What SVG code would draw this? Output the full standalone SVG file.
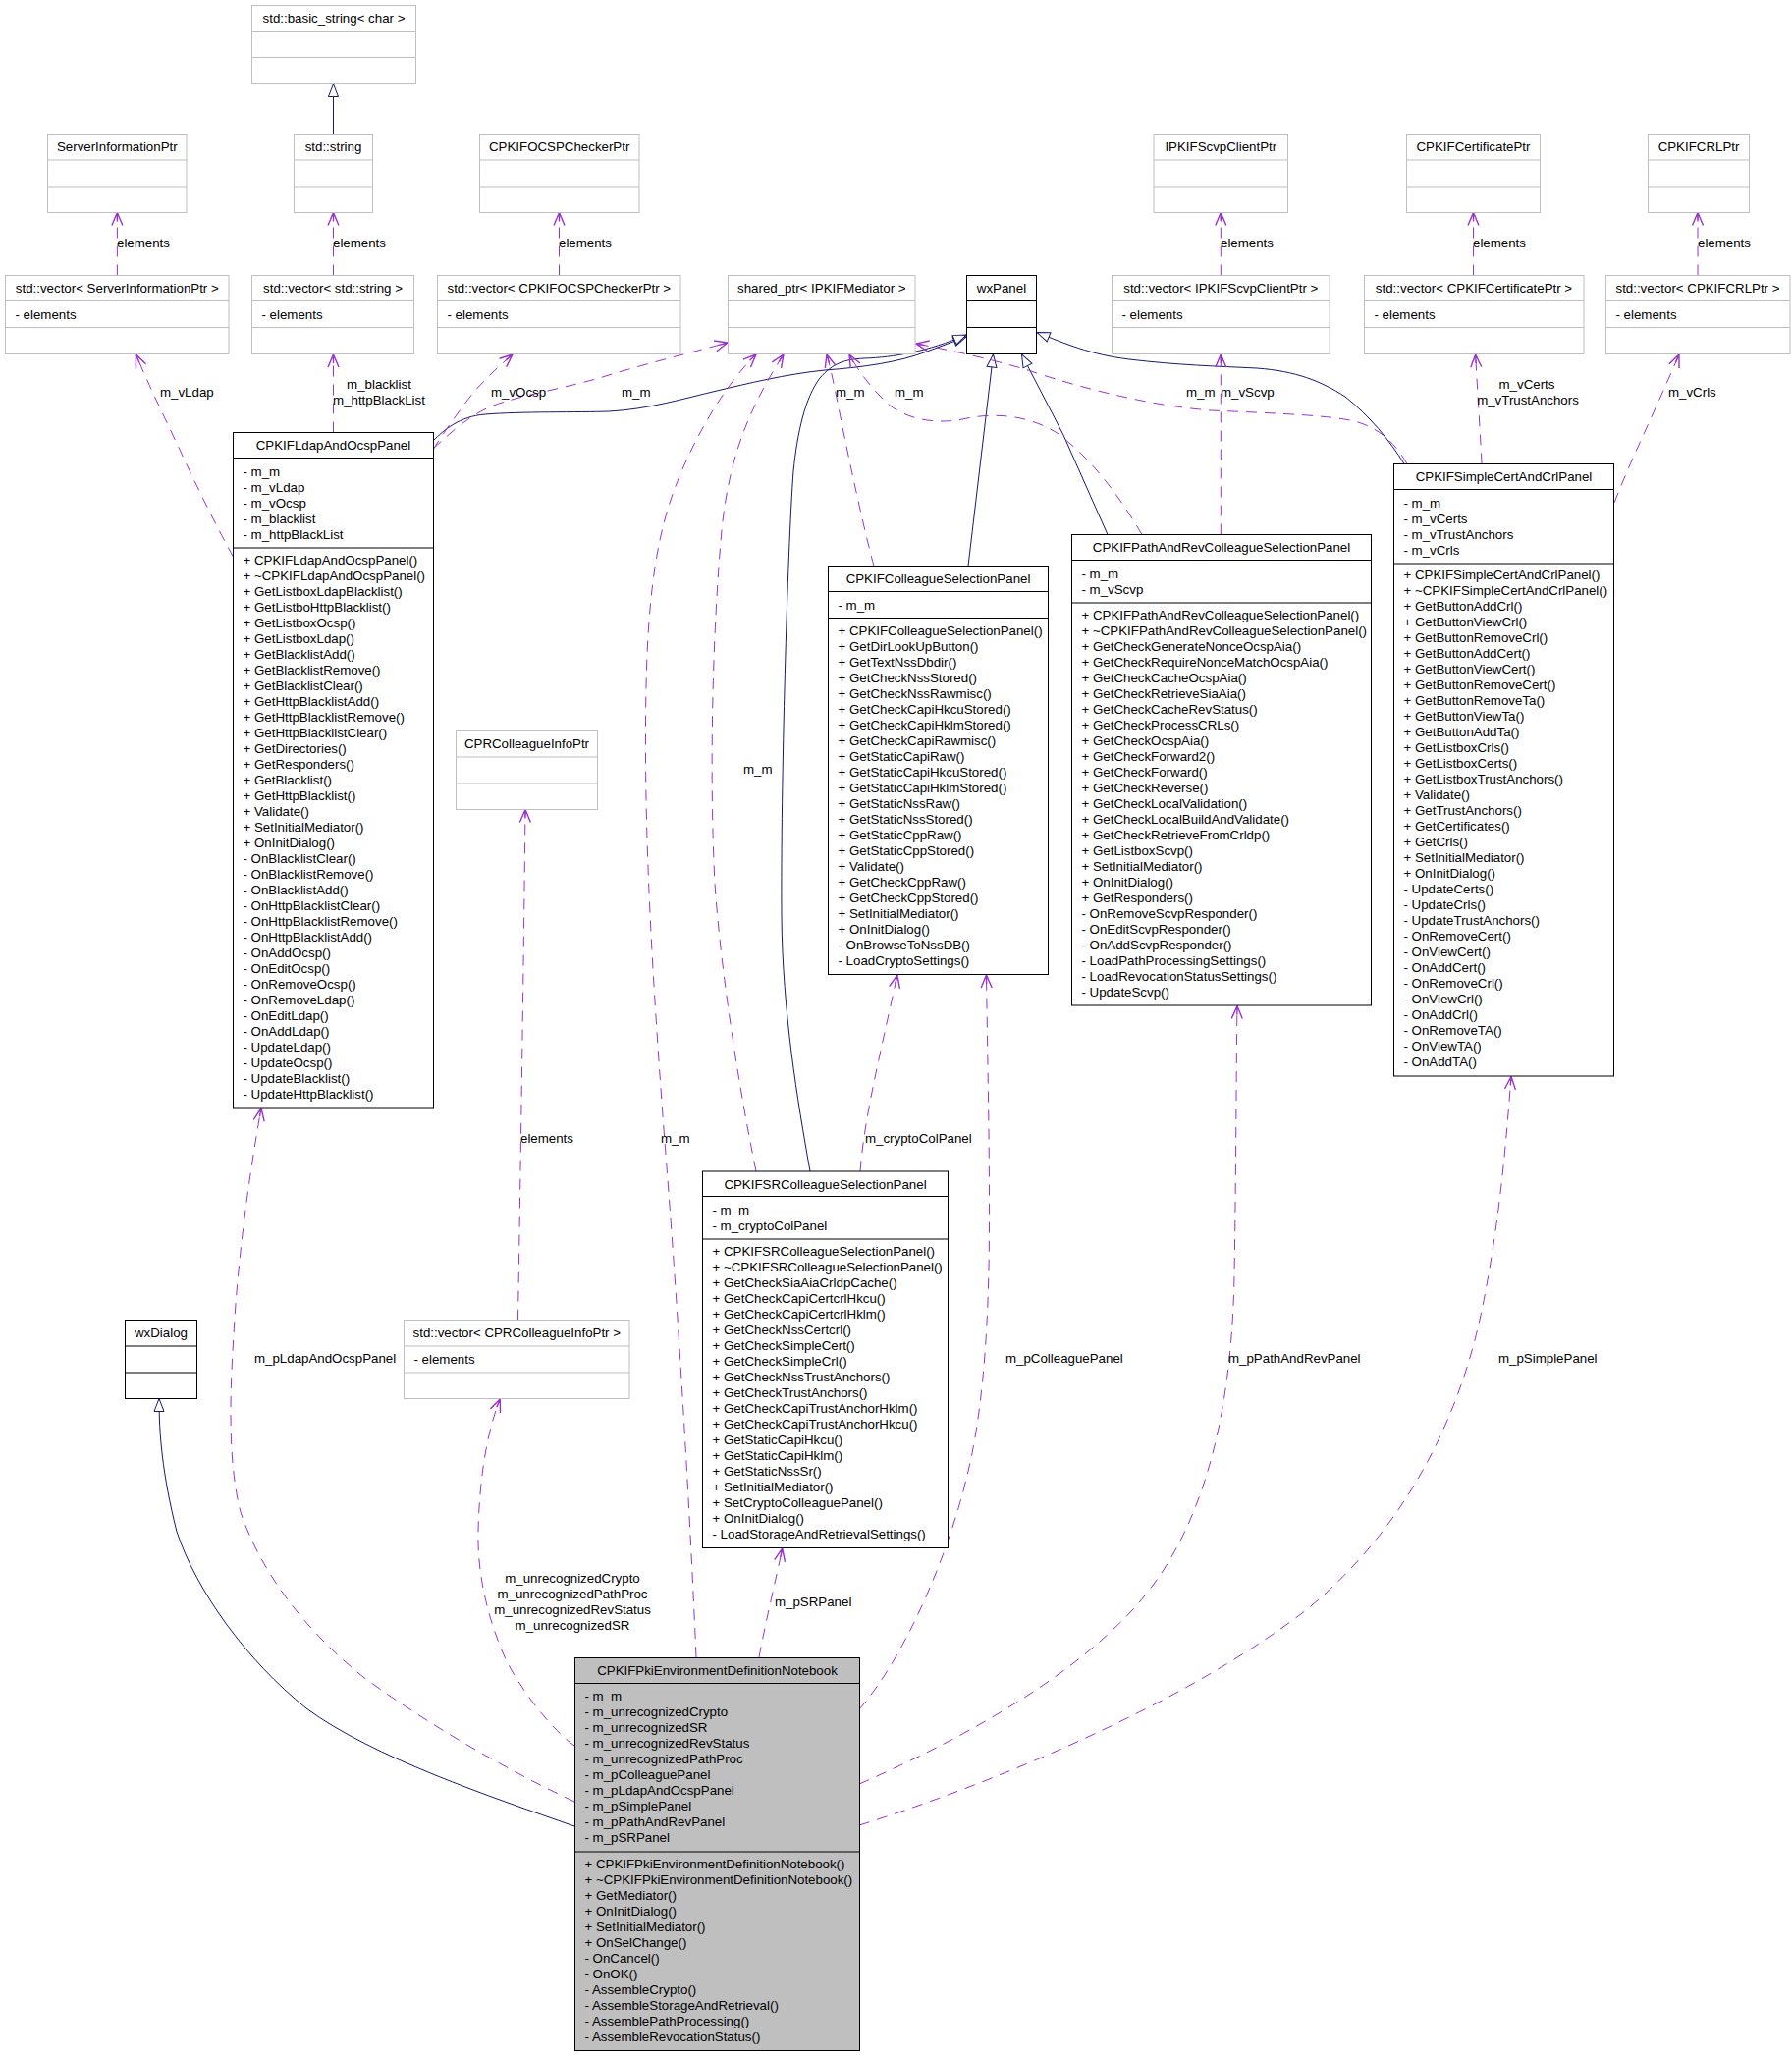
<svg xmlns="http://www.w3.org/2000/svg" width="1825" height="2093" viewBox="0 0 1825 2093">
<style>
text{font-family:"Liberation Sans",Arial,sans-serif;font-size:13.3px;fill:#000}
.h{text-anchor:middle}
.c{text-anchor:middle}
.g{fill:#fff;stroke:#bfbfbf;stroke-width:1}
.gl{stroke:#bfbfbf;stroke-width:1}
.b{fill:#fff;stroke:#000;stroke-width:1}
.bl{stroke:#000;stroke-width:1}
.n{fill:#bfbfbf;stroke:#000;stroke-width:1}
.inh{fill:none;stroke:#191970;stroke-width:1;marker-end:url(#tri)}
.use{fill:none;stroke:#9a32cd;stroke-width:1;stroke-dasharray:11,8;marker-end:url(#vee)}
</style>
<defs>
<marker id="tri" markerUnits="userSpaceOnUse" orient="auto" refX="0" refY="0" markerWidth="20" markerHeight="20" overflow="visible">
<path d="M0,0 L-13,-5 L-13,5 Z" fill="#fff" stroke="#191970" stroke-width="1"/>
</marker>
<marker id="vee" markerUnits="userSpaceOnUse" orient="auto" refX="0" refY="0" markerWidth="20" markerHeight="20" overflow="visible">
<path d="M-13,-5.5 L0,0 L-13,5.5 M0,0 L-9,0" fill="none" stroke="#9a32cd" stroke-width="1.4"/>
</marker>
</defs>
<rect width="1825" height="2093" fill="#fff"/>

<g id="connectors">
<!-- inheritance -->
<path class="inh" d="M339.5,136.5 L339.5,85.5"/>
<path class="inh" d="M441,449 C452,438 468,424 494,422 C530,419 590,420 620,419 C660,417 700,405 730,398 C760,391 800,381 840,377 C880,374 915,369 944,358 L984,343"/>
<path class="inh" d="M825,1193 C812,1120 797,1030 796,934 C795,800 802,560 808,480 C812,440 820,405 835,385 C848,370 860,366 880,365 C910,364 945,358 984,341"/>
<path class="inh" d="M986,576.5 L1011.5,361"/>
<path class="inh" d="M1128,544.5 L1083,443 L1040.5,361"/>
<path class="inh" d="M1430,472.5 C1415,448 1395,424 1370,404 C1345,388 1320,378 1280,375 C1240,373 1200,372 1150,366 C1110,361 1085,350 1056,338.5"/>
<path class="inh" d="M585,1860 C500,1830 380,1790 312,1740 C250,1690 200,1620 180,1560 C165,1500 162,1460 162,1424.5"/>
<!-- usage: elements -->
<path class="use" d="M119.4,280.5 L119.4,216.5"/>
<path class="use" d="M339.5,280.5 L339.5,216.5"/>
<path class="use" d="M569.5,280.5 L569.5,216.5"/>
<path class="use" d="M1243.3,280.5 L1243.3,216.5"/>
<path class="use" d="M1500.5,280.5 L1500.5,216.5"/>
<path class="use" d="M1729,280.5 L1729,216.5"/>
<path class="use" d="M527.5,1344.5 C530,1200 533,1000 535,824.5"/>
<!-- Ldap panel -->
<path class="use" d="M237.5,567 C225,545 200,495 184,460 C170,430 155,400 138.4,361"/>
<path class="use" d="M339.5,440.5 L339.5,361"/>
<path class="use" d="M441,458 C450,443 470,415 482,400 C495,385 508,373 522,361"/>
<path class="use" d="M441,457 C460,440 475,425 500,414 C530,402 580,395 620,382 C660,370 700,360 741,349"/>
<!-- shared_ptr users -->
<path class="use" d="M709,1688 C703,1550 692,1350 676,1150 C665,1000 655,850 658,700 C660,600 670,540 690,490 C710,440 740,390 770,361"/>
<path class="use" d="M770,1193 C755,1120 735,1000 728,900 C722,780 726,640 735,540 C742,470 760,420 798,361"/>
<path class="use" d="M890,576.5 C880,540 865,470 855,420 C850,395 846,375 842,361"/>
<path class="use" d="M1163,544.5 C1140,505 1110,465 1075,440 C1045,422 1010,420 980,427 C955,432 925,428 905,412 C890,398 875,380 865,361"/>
<path class="use" d="M1433,472.5 C1420,450 1405,437 1383,430 C1360,423 1300,421 1233,418 C1170,413 1100,395 1047,377 C1010,366 970,357 933,350"/>
<!-- other -->
<path class="use" d="M1243.3,544.5 L1243.3,361"/>
<path class="use" d="M1509,472.5 C1507,430 1504,390 1502.7,361"/>
<path class="use" d="M1644,512 C1660,470 1685,420 1710,361"/>
<path class="use" d="M876,1193 C880,1140 895,1080 913.8,993"/>
<path class="use" d="M875,1741 C920,1690 970,1580 990,1480 C1010,1380 1008,1250 1007,1150 C1006,1080 1005,1030 1004.5,993"/>
<path class="use" d="M875,1817 C960,1780 1100,1710 1170,1620 C1240,1530 1255,1400 1257,1300 C1259,1180 1259,1080 1260,1024.5"/>
<path class="use" d="M875,1859 C1000,1820 1200,1740 1330,1640 C1440,1550 1490,1430 1510,1330 C1528,1240 1534,1160 1539,1096.5"/>
<path class="use" d="M585,1835 C500,1795 420,1745 370,1708 C310,1660 265,1600 245,1540 C232,1490 234,1420 238,1360 C242,1280 255,1190 266,1128.5"/>
<path class="use" d="M585,1778 C560,1760 530,1720 515,1690 C495,1645 486,1600 487,1560 C488,1510 495,1460 509.3,1425"/>
<path class="use" d="M773,1688 C780,1650 790,1610 796.7,1577"/>
<!-- labels -->
<text x="119" y="252">elements</text>
<text x="339" y="252">elements</text>
<text x="569" y="252">elements</text>
<text x="1243" y="252">elements</text>
<text x="1500" y="252">elements</text>
<text x="1729" y="252">elements</text>
<text x="163" y="404">m_vLdap</text>
<text class="c" x="386" y="396">m_blacklist</text>
<text class="c" x="386" y="412">m_httpBlackList</text>
<text x="500" y="404">m_vOcsp</text>
<text x="633" y="404">m_m</text>
<text x="851" y="404">m_m</text>
<text x="911" y="404">m_m</text>
<text x="1208" y="404">m_m</text>
<text x="1243" y="404">m_vScvp</text>
<text class="c" x="1555" y="396">m_vCerts</text>
<text class="c" x="1556" y="412">m_vTrustAnchors</text>
<text x="1699" y="404">m_vCrls</text>
<text x="757" y="788">m_m</text>
<text x="530" y="1164">elements</text>
<text x="673" y="1164">m_m</text>
<text x="881" y="1164">m_cryptoColPanel</text>
<text x="259" y="1388">m_pLdapAndOcspPanel</text>
<text x="1024" y="1388">m_pColleaguePanel</text>
<text x="1251" y="1388">m_pPathAndRevPanel</text>
<text x="1526" y="1388">m_pSimplePanel</text>
<text class="c" x="583" y="1612">m_unrecognizedCrypto</text>
<text class="c" x="583" y="1628">m_unrecognizedPathProc</text>
<text class="c" x="583" y="1644">m_unrecognizedRevStatus</text>
<text class="c" x="583" y="1660">m_unrecognizedSR</text>
<text x="789" y="1636">m_pSRPanel</text>
</g>

<g id="basic_string">
<rect class="g" x="256.5" y="5.5" width="167" height="80"/>
<path class="gl" d="M256.5,32.5 H423.5 M256.5,58.5 H423.5"/>
<text class="h" x="340" y="23">std::basic_string&lt; char &gt;</text>
</g>
<g id="ServerInformationPtr">
<rect class="g" x="48.5" y="136.5" width="141.5" height="80"/>
<path class="gl" d="M48.5,163 H190 M48.5,190 H190"/>
<text class="h" x="119.3" y="154">ServerInformationPtr</text>
</g>
<g id="std_string">
<rect class="g" x="299.5" y="136.5" width="80" height="80"/>
<path class="gl" d="M299.5,163 H379.5 M299.5,190 H379.5"/>
<text class="h" x="339.5" y="154">std::string</text>
</g>
<g id="CPKIFOCSPCheckerPtr">
<rect class="g" x="488.5" y="136.5" width="162.5" height="80"/>
<path class="gl" d="M488.5,163 H651 M488.5,190 H651"/>
<text class="h" x="569.7" y="154">CPKIFOCSPCheckerPtr</text>
</g>
<g id="IPKIFScvpClientPtr">
<rect class="g" x="1175" y="136.5" width="136.5" height="80"/>
<path class="gl" d="M1175,163 H1311.5 M1175,190 H1311.5"/>
<text class="h" x="1243.3" y="154">IPKIFScvpClientPtr</text>
</g>
<g id="CPKIFCertificatePtr">
<rect class="g" x="1432.5" y="136.5" width="136" height="80"/>
<path class="gl" d="M1432.5,163 H1568.5 M1432.5,190 H1568.5"/>
<text class="h" x="1500.5" y="154">CPKIFCertificatePtr</text>
</g>
<g id="CPKIFCRLPtr">
<rect class="g" x="1678.5" y="136.5" width="103" height="80"/>
<path class="gl" d="M1678.5,163 H1781.5 M1678.5,190 H1781.5"/>
<text class="h" x="1730" y="154">CPKIFCRLPtr</text>
</g>

<g id="vector_ServerInformationPtr">
<rect class="g" x="5.5" y="280.5" width="227.5" height="80"/>
<path class="gl" d="M5.5,306.5 H233 M5.5,333.5 H233"/>
<text class="h" x="119.3" y="298">std::vector&lt; ServerInformationPtr &gt;</text>
<text x="15.5" y="325">- elements</text>
</g>
<g id="vector_string">
<rect class="g" x="256.5" y="280.5" width="165" height="80"/>
<path class="gl" d="M256.5,306.5 H421.5 M256.5,333.5 H421.5"/>
<text class="h" x="339" y="298">std::vector&lt; std::string &gt;</text>
<text x="266.5" y="325">- elements</text>
</g>
<g id="vector_CPKIFOCSPCheckerPtr">
<rect class="g" x="445.5" y="280.5" width="247.5" height="80"/>
<path class="gl" d="M445.5,306.5 H693 M445.5,333.5 H693"/>
<text class="h" x="569.3" y="298">std::vector&lt; CPKIFOCSPCheckerPtr &gt;</text>
<text x="455.5" y="325">- elements</text>
</g>
<g id="shared_ptr_IPKIFMediator">
<rect class="g" x="741.5" y="280.5" width="190.5" height="80"/>
<path class="gl" d="M741.5,306.5 H932 M741.5,333.5 H932"/>
<text class="h" x="836.8" y="298">shared_ptr&lt; IPKIFMediator &gt;</text>
</g>
<g id="wxPanel">
<rect class="b" x="984.5" y="280.5" width="71" height="80"/>
<path class="bl" d="M984.5,306.5 H1055.5 M984.5,333.5 H1055.5"/>
<text class="h" x="1020" y="298">wxPanel</text>
</g>
<g id="vector_IPKIFScvpClientPtr">
<rect class="g" x="1132.5" y="280.5" width="221.5" height="80"/>
<path class="gl" d="M1132.5,306.5 H1354 M1132.5,333.5 H1354"/>
<text class="h" x="1243.3" y="298">std::vector&lt; IPKIFScvpClientPtr &gt;</text>
<text x="1142.5" y="325">- elements</text>
</g>
<g id="vector_CPKIFCertificatePtr">
<rect class="g" x="1389.5" y="280.5" width="223.5" height="80"/>
<path class="gl" d="M1389.5,306.5 H1613 M1389.5,333.5 H1613"/>
<text class="h" x="1501" y="298">std::vector&lt; CPKIFCertificatePtr &gt;</text>
<text x="1399.5" y="325">- elements</text>
</g>
<g id="vector_CPKIFCRLPtr">
<rect class="g" x="1635.5" y="280.5" width="187.5" height="80"/>
<path class="gl" d="M1635.5,306.5 H1823 M1635.5,333.5 H1823"/>
<text class="h" x="1729" y="298">std::vector&lt; CPKIFCRLPtr &gt;</text>
<text x="1645.5" y="325">- elements</text>
</g>

<g id="CPKIFLdapAndOcspPanel">
<rect class="b" x="237.5" y="440.5" width="204" height="687.5"/>
<path class="bl" d="M237.5,466.5 H441.5 M237.5,558 H441.5"/>
<text class="h" x="339.5" y="458">CPKIFLdapAndOcspPanel</text>
<text x="247.5" y="484.5">- m_m</text>
<text x="247.5" y="500.5">- m_vLdap</text>
<text x="247.5" y="516.5">- m_vOcsp</text>
<text x="247.5" y="532.5">- m_blacklist</text>
<text x="247.5" y="548.5">- m_httpBlackList</text>
<text x="247.5" y="575">+ CPKIFLdapAndOcspPanel()</text>
<text x="247.5" y="591">+ ~CPKIFLdapAndOcspPanel()</text>
<text x="247.5" y="607">+ GetListboxLdapBlacklist()</text>
<text x="247.5" y="623">+ GetListboHttpBlacklist()</text>
<text x="247.5" y="639">+ GetListboxOcsp()</text>
<text x="247.5" y="655">+ GetListboxLdap()</text>
<text x="247.5" y="671">+ GetBlacklistAdd()</text>
<text x="247.5" y="687">+ GetBlacklistRemove()</text>
<text x="247.5" y="703">+ GetBlacklistClear()</text>
<text x="247.5" y="719">+ GetHttpBlacklistAdd()</text>
<text x="247.5" y="735">+ GetHttpBlacklistRemove()</text>
<text x="247.5" y="751">+ GetHttpBlacklistClear()</text>
<text x="247.5" y="767">+ GetDirectories()</text>
<text x="247.5" y="783">+ GetResponders()</text>
<text x="247.5" y="799">+ GetBlacklist()</text>
<text x="247.5" y="815">+ GetHttpBlacklist()</text>
<text x="247.5" y="831">+ Validate()</text>
<text x="247.5" y="847">+ SetInitialMediator()</text>
<text x="247.5" y="863">+ OnInitDialog()</text>
<text x="247.5" y="879">- OnBlacklistClear()</text>
<text x="247.5" y="895">- OnBlacklistRemove()</text>
<text x="247.5" y="911">- OnBlacklistAdd()</text>
<text x="247.5" y="927">- OnHttpBlacklistClear()</text>
<text x="247.5" y="943">- OnHttpBlacklistRemove()</text>
<text x="247.5" y="959">- OnHttpBlacklistAdd()</text>
<text x="247.5" y="975">- OnAddOcsp()</text>
<text x="247.5" y="991">- OnEditOcsp()</text>
<text x="247.5" y="1007">- OnRemoveOcsp()</text>
<text x="247.5" y="1023">- OnRemoveLdap()</text>
<text x="247.5" y="1039">- OnEditLdap()</text>
<text x="247.5" y="1055">- OnAddLdap()</text>
<text x="247.5" y="1071">- UpdateLdap()</text>
<text x="247.5" y="1087">- UpdateOcsp()</text>
<text x="247.5" y="1103">- UpdateBlacklist()</text>
<text x="247.5" y="1119">- UpdateHttpBlacklist()</text>
</g>

<g id="CPRColleagueInfoPtr">
<rect class="g" x="464.5" y="744.5" width="144" height="80"/>
<path class="gl" d="M464.5,771 H608.5 M464.5,798 H608.5"/>
<text class="h" x="536.5" y="762">CPRColleagueInfoPtr</text>
</g>

<g id="CPKIFColleagueSelectionPanel">
<rect class="b" x="843.5" y="576.5" width="224" height="416"/>
<path class="bl" d="M843.5,602.5 H1067.5 M843.5,629.5 H1067.5"/>
<text class="h" x="955.5" y="594">CPKIFColleagueSelectionPanel</text>
<text x="853.5" y="620.5">- m_m</text>
<text x="853.5" y="646.5">+ CPKIFColleagueSelectionPanel()</text>
<text x="853.5" y="662.5">+ GetDirLookUpButton()</text>
<text x="853.5" y="678.5">+ GetTextNssDbdir()</text>
<text x="853.5" y="694.5">+ GetCheckNssStored()</text>
<text x="853.5" y="710.5">+ GetCheckNssRawmisc()</text>
<text x="853.5" y="726.5">+ GetCheckCapiHkcuStored()</text>
<text x="853.5" y="742.5">+ GetCheckCapiHklmStored()</text>
<text x="853.5" y="758.5">+ GetCheckCapiRawmisc()</text>
<text x="853.5" y="774.5">+ GetStaticCapiRaw()</text>
<text x="853.5" y="790.5">+ GetStaticCapiHkcuStored()</text>
<text x="853.5" y="806.5">+ GetStaticCapiHklmStored()</text>
<text x="853.5" y="822.5">+ GetStaticNssRaw()</text>
<text x="853.5" y="838.5">+ GetStaticNssStored()</text>
<text x="853.5" y="854.5">+ GetStaticCppRaw()</text>
<text x="853.5" y="870.5">+ GetStaticCppStored()</text>
<text x="853.5" y="886.5">+ Validate()</text>
<text x="853.5" y="902.5">+ GetCheckCppRaw()</text>
<text x="853.5" y="918.5">+ GetCheckCppStored()</text>
<text x="853.5" y="934.5">+ SetInitialMediator()</text>
<text x="853.5" y="950.5">+ OnInitDialog()</text>
<text x="853.5" y="966.5">- OnBrowseToNssDB()</text>
<text x="853.5" y="982.5">- LoadCryptoSettings()</text>
</g>

<g id="CPKIFPathAndRevColleagueSelectionPanel">
<rect class="b" x="1091.5" y="544.5" width="305" height="479.5"/>
<path class="bl" d="M1091.5,570.5 H1396.5 M1091.5,614 H1396.5"/>
<text class="h" x="1244" y="562">CPKIFPathAndRevColleagueSelectionPanel</text>
<text x="1101.5" y="588.5">- m_m</text>
<text x="1101.5" y="604.5">- m_vScvp</text>
<text x="1101.5" y="630.5">+ CPKIFPathAndRevColleagueSelectionPanel()</text>
<text x="1101.5" y="646.5">+ ~CPKIFPathAndRevColleagueSelectionPanel()</text>
<text x="1101.5" y="662.5">+ GetCheckGenerateNonceOcspAia()</text>
<text x="1101.5" y="678.5">+ GetCheckRequireNonceMatchOcspAia()</text>
<text x="1101.5" y="694.5">+ GetCheckCacheOcspAia()</text>
<text x="1101.5" y="710.5">+ GetCheckRetrieveSiaAia()</text>
<text x="1101.5" y="726.5">+ GetCheckCacheRevStatus()</text>
<text x="1101.5" y="742.5">+ GetCheckProcessCRLs()</text>
<text x="1101.5" y="758.5">+ GetCheckOcspAia()</text>
<text x="1101.5" y="774.5">+ GetCheckForward2()</text>
<text x="1101.5" y="790.5">+ GetCheckForward()</text>
<text x="1101.5" y="806.5">+ GetCheckReverse()</text>
<text x="1101.5" y="822.5">+ GetCheckLocalValidation()</text>
<text x="1101.5" y="838.5">+ GetCheckLocalBuildAndValidate()</text>
<text x="1101.5" y="854.5">+ GetCheckRetrieveFromCrldp()</text>
<text x="1101.5" y="870.5">+ GetListboxScvp()</text>
<text x="1101.5" y="886.5">+ SetInitialMediator()</text>
<text x="1101.5" y="902.5">+ OnInitDialog()</text>
<text x="1101.5" y="918.5">+ GetResponders()</text>
<text x="1101.5" y="934.5">- OnRemoveScvpResponder()</text>
<text x="1101.5" y="950.5">- OnEditScvpResponder()</text>
<text x="1101.5" y="966.5">- OnAddScvpResponder()</text>
<text x="1101.5" y="982.5">- LoadPathProcessingSettings()</text>
<text x="1101.5" y="998.5">- LoadRevocationStatusSettings()</text>
<text x="1101.5" y="1014.5">- UpdateScvp()</text>
</g>

<g id="CPKIFSimpleCertAndCrlPanel">
<rect class="b" x="1419.5" y="472.5" width="224" height="623.5"/>
<path class="bl" d="M1419.5,498.5 H1643.5 M1419.5,574 H1643.5"/>
<text class="h" x="1531.5" y="490">CPKIFSimpleCertAndCrlPanel</text>
<text x="1429.5" y="516.5">- m_m</text>
<text x="1429.5" y="532.5">- m_vCerts</text>
<text x="1429.5" y="548.5">- m_vTrustAnchors</text>
<text x="1429.5" y="564.5">- m_vCrls</text>
<text x="1429.5" y="590">+ CPKIFSimpleCertAndCrlPanel()</text>
<text x="1429.5" y="606">+ ~CPKIFSimpleCertAndCrlPanel()</text>
<text x="1429.5" y="622">+ GetButtonAddCrl()</text>
<text x="1429.5" y="638">+ GetButtonViewCrl()</text>
<text x="1429.5" y="654">+ GetButtonRemoveCrl()</text>
<text x="1429.5" y="670">+ GetButtonAddCert()</text>
<text x="1429.5" y="686">+ GetButtonViewCert()</text>
<text x="1429.5" y="702">+ GetButtonRemoveCert()</text>
<text x="1429.5" y="718">+ GetButtonRemoveTa()</text>
<text x="1429.5" y="734">+ GetButtonViewTa()</text>
<text x="1429.5" y="750">+ GetButtonAddTa()</text>
<text x="1429.5" y="766">+ GetListboxCrls()</text>
<text x="1429.5" y="782">+ GetListboxCerts()</text>
<text x="1429.5" y="798">+ GetListboxTrustAnchors()</text>
<text x="1429.5" y="814">+ Validate()</text>
<text x="1429.5" y="830">+ GetTrustAnchors()</text>
<text x="1429.5" y="846">+ GetCertificates()</text>
<text x="1429.5" y="862">+ GetCrls()</text>
<text x="1429.5" y="878">+ SetInitialMediator()</text>
<text x="1429.5" y="894">+ OnInitDialog()</text>
<text x="1429.5" y="910">- UpdateCerts()</text>
<text x="1429.5" y="926">- UpdateCrls()</text>
<text x="1429.5" y="942">- UpdateTrustAnchors()</text>
<text x="1429.5" y="958">- OnRemoveCert()</text>
<text x="1429.5" y="974">- OnViewCert()</text>
<text x="1429.5" y="990">- OnAddCert()</text>
<text x="1429.5" y="1006">- OnRemoveCrl()</text>
<text x="1429.5" y="1022">- OnViewCrl()</text>
<text x="1429.5" y="1038">- OnAddCrl()</text>
<text x="1429.5" y="1054">- OnRemoveTA()</text>
<text x="1429.5" y="1070">- OnViewTA()</text>
<text x="1429.5" y="1086">- OnAddTA()</text>
</g>

<g id="CPKIFSRColleagueSelectionPanel">
<rect class="b" x="715.5" y="1193" width="250" height="383.5"/>
<path class="bl" d="M715.5,1218.5 H965.5 M715.5,1262 H965.5"/>
<text class="h" x="840.5" y="1211">CPKIFSRColleagueSelectionPanel</text>
<text x="725.5" y="1236.5">- m_m</text>
<text x="725.5" y="1252.5">- m_cryptoColPanel</text>
<text x="725.5" y="1278.5">+ CPKIFSRColleagueSelectionPanel()</text>
<text x="725.5" y="1294.5">+ ~CPKIFSRColleagueSelectionPanel()</text>
<text x="725.5" y="1310.5">+ GetCheckSiaAiaCrldpCache()</text>
<text x="725.5" y="1326.5">+ GetCheckCapiCertcrlHkcu()</text>
<text x="725.5" y="1342.5">+ GetCheckCapiCertcrlHklm()</text>
<text x="725.5" y="1358.5">+ GetCheckNssCertcrl()</text>
<text x="725.5" y="1374.5">+ GetCheckSimpleCert()</text>
<text x="725.5" y="1390.5">+ GetCheckSimpleCrl()</text>
<text x="725.5" y="1406.5">+ GetCheckNssTrustAnchors()</text>
<text x="725.5" y="1422.5">+ GetCheckTrustAnchors()</text>
<text x="725.5" y="1438.5">+ GetCheckCapiTrustAnchorHklm()</text>
<text x="725.5" y="1454.5">+ GetCheckCapiTrustAnchorHkcu()</text>
<text x="725.5" y="1470.5">+ GetStaticCapiHkcu()</text>
<text x="725.5" y="1486.5">+ GetStaticCapiHklm()</text>
<text x="725.5" y="1502.5">+ GetStaticNssSr()</text>
<text x="725.5" y="1518.5">+ SetInitialMediator()</text>
<text x="725.5" y="1534.5">+ SetCryptoColleaguePanel()</text>
<text x="725.5" y="1550.5">+ OnInitDialog()</text>
<text x="725.5" y="1566.5">- LoadStorageAndRetrievalSettings()</text>
</g>

<g id="wxDialog">
<rect class="b" x="127.5" y="1344.5" width="73" height="80"/>
<path class="bl" d="M127.5,1371 H200.5 M127.5,1398 H200.5"/>
<text class="h" x="164" y="1362">wxDialog</text>
</g>

<g id="vector_CPRColleagueInfoPtr">
<rect class="g" x="411.5" y="1344.5" width="229.5" height="80"/>
<path class="gl" d="M411.5,1371 H641 M411.5,1398 H641"/>
<text class="h" x="526.3" y="1362">std::vector&lt; CPRColleagueInfoPtr &gt;</text>
<text x="421.5" y="1389">- elements</text>
</g>

<g id="CPKIFPkiEnvironmentDefinitionNotebook">
<rect class="n" x="585.5" y="1688.5" width="290" height="400"/>
<path class="bl" d="M585.5,1714.5 H875.5 M585.5,1886 H875.5"/>
<text class="h" x="730.5" y="1706">CPKIFPkiEnvironmentDefinitionNotebook</text>
<text x="595.5" y="1732">- m_m</text>
<text x="595.5" y="1748">- m_unrecognizedCrypto</text>
<text x="595.5" y="1764">- m_unrecognizedSR</text>
<text x="595.5" y="1780">- m_unrecognizedRevStatus</text>
<text x="595.5" y="1796">- m_unrecognizedPathProc</text>
<text x="595.5" y="1812">- m_pColleaguePanel</text>
<text x="595.5" y="1828">- m_pLdapAndOcspPanel</text>
<text x="595.5" y="1844">- m_pSimplePanel</text>
<text x="595.5" y="1860">- m_pPathAndRevPanel</text>
<text x="595.5" y="1876">- m_pSRPanel</text>
<text x="595.5" y="1902.5">+ CPKIFPkiEnvironmentDefinitionNotebook()</text>
<text x="595.5" y="1918.5">+ ~CPKIFPkiEnvironmentDefinitionNotebook()</text>
<text x="595.5" y="1934.5">+ GetMediator()</text>
<text x="595.5" y="1950.5">+ OnInitDialog()</text>
<text x="595.5" y="1966.5">+ SetInitialMediator()</text>
<text x="595.5" y="1982.5">+ OnSelChange()</text>
<text x="595.5" y="1998.5">- OnCancel()</text>
<text x="595.5" y="2014.5">- OnOK()</text>
<text x="595.5" y="2030.5">- AssembleCrypto()</text>
<text x="595.5" y="2046.5">- AssembleStorageAndRetrieval()</text>
<text x="595.5" y="2062.5">- AssemblePathProcessing()</text>
<text x="595.5" y="2078.5">- AssembleRevocationStatus()</text>
</g>
</svg>
